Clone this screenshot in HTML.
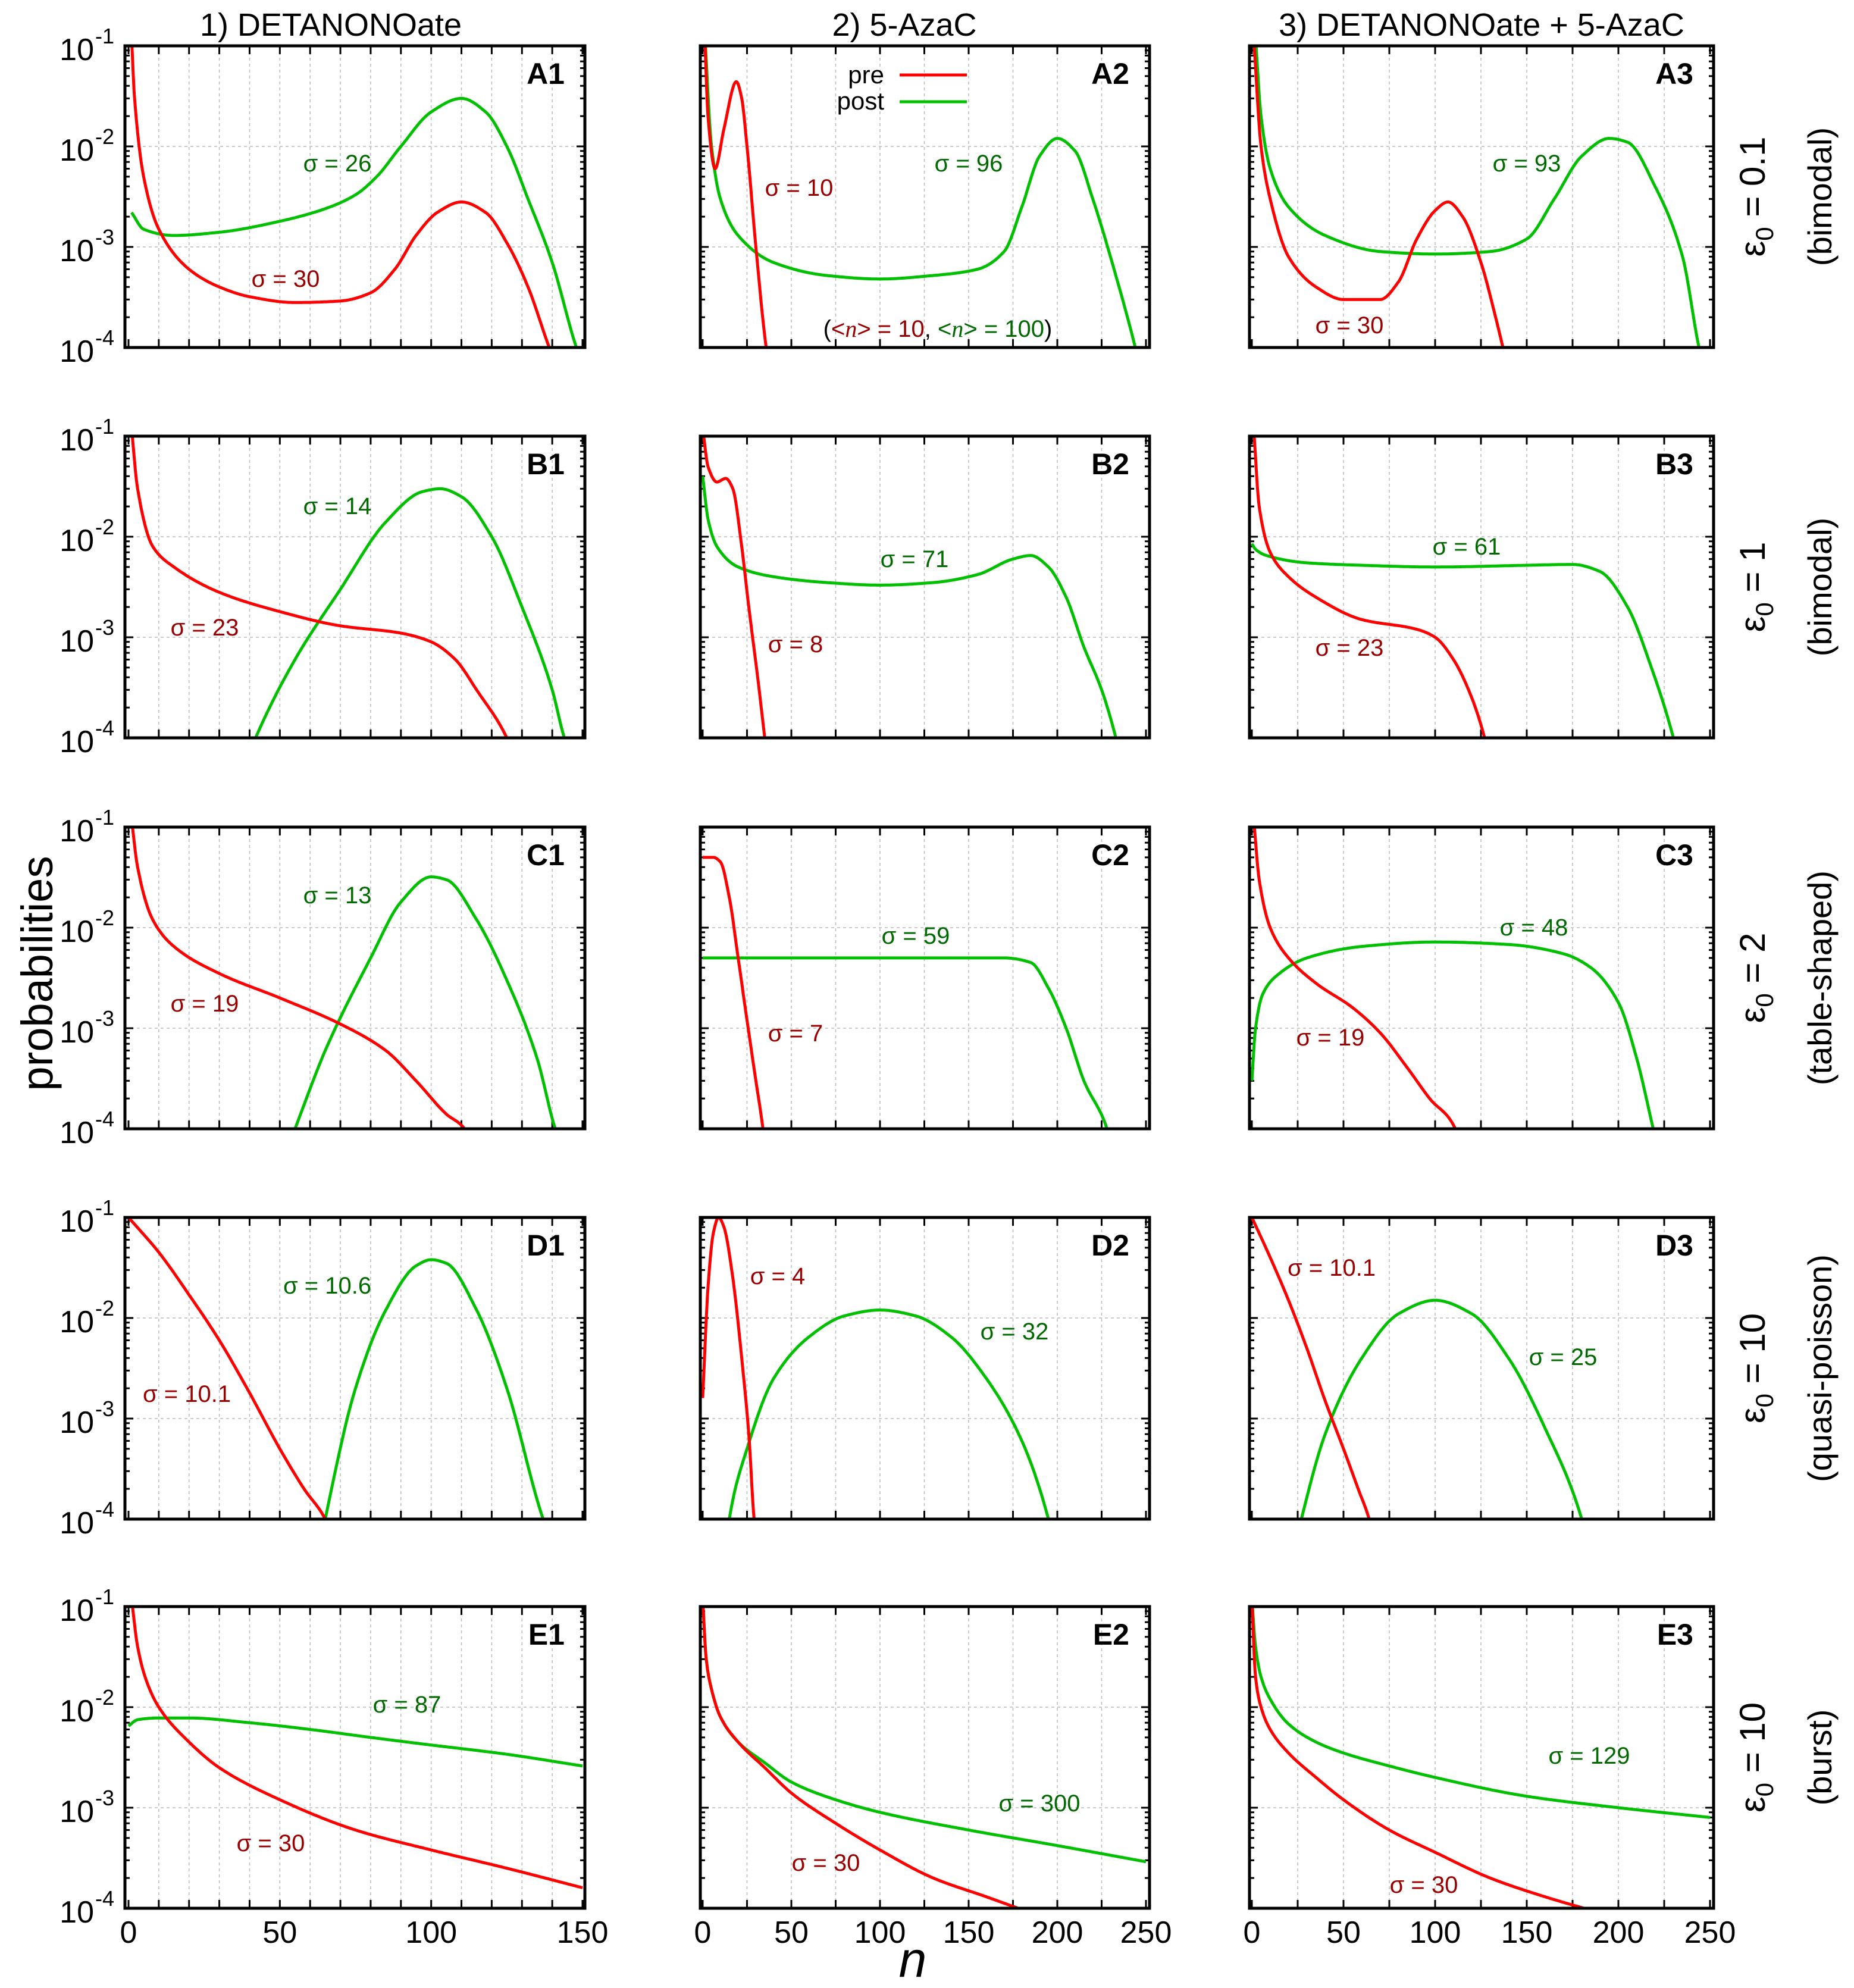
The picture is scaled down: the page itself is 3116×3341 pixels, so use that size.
<!DOCTYPE html>
<html><head><meta charset="utf-8"><style>
html,body{margin:0;padding:0;background:#fff}
svg{display:block}
text{font-family:"Liberation Sans",sans-serif}
</style></head><body>
<svg id="fig" width="3116" height="3341" viewBox="0 0 3116 3341" xmlns="http://www.w3.org/2000/svg"></svg>
<script>
// ---- data (n, probability) ----
const panelIds = ["A1","A2","A3","B1","B2","B3","C1","C2","C3","D1","D2","D3","E1","E2","E3"];
const A1pre  = [[1,0.12],[2,0.03],[5,0.005],[10,0.0015],[20,0.0006],[30,0.0004],[40,0.00032],[55,0.00028],[70,0.00029],[80,0.00035],[88,0.0006],[95,0.0013],[102,0.0022],[110,0.0028],[118,0.0022],[125,0.0011],[132,0.0004],[139,0.0001],[141,0.00007]];
const A1post = [[1,0.0022],[5,0.0015],[15,0.0013],[30,0.0014],[50,0.0018],[65,0.0024],[75,0.0033],[82,0.005],[90,0.01],[100,0.022],[110,0.03],[118,0.022],[125,0.01],[132,0.003],[140,0.0007],[148,0.0001],[150,0.00007]];
const A2pre  = [[1,0.15],[3,0.02],[7,0.006],[12,0.015],[19,0.044],[22,0.03],[25,0.01],[30,0.001],[35,0.00013],[37,0.00007]];
const A2post = [[1,0.15],[5,0.01],[10,0.003],[20,0.0013],[40,0.0007],[70,0.00052],[100,0.00048],[130,0.00052],[155,0.0006],[170,0.0009],[180,0.0025],[190,0.008],[200,0.012],[210,0.009],[220,0.003],[232,0.0006],[244,0.0001],[247,0.00006]];
const A3pre  = [[1,0.12],[5,0.01],[10,0.003],[20,0.0008],[35,0.0004],[50,0.0003],[70,0.0003],[80,0.00045],[90,0.0012],[100,0.0023],[107,0.0028],[115,0.002],[125,0.0007],[133,0.0002],[137,0.0001],[139,0.00007]];
const A3post = [[2,0.12],[5,0.02],[10,0.006],[20,0.0025],[40,0.0013],[70,0.0009],[100,0.00085],[130,0.0009],[150,0.0012],[165,0.003],[180,0.008],[195,0.012],[205,0.011],[220,0.004],[235,0.0008],[244,0.0001],[247,0.00006]];
const B1pre  = [[1,0.12],[3,0.03],[8,0.008],[15,0.005],[30,0.0028],[50,0.0018],[70,0.0013],[90,0.0011],[100,0.0009],[108,0.0006],[115,0.0003],[125,0.0001],[127,0.00007]];
const B1post = [[40,0.00007],[42,0.0001],[55,0.0006],[70,0.003],[85,0.014],[97,0.028],[103,0.03],[110,0.025],[120,0.01],[130,0.002],[140,0.0003],[144,0.0001],[146,0.00007]];
const B2pre  = [[0,0.12],[3,0.05],[8,0.035],[13,0.038],[17,0.03],[22,0.008],[26,0.002],[31,0.0004],[35,0.0001],[36,0.00007]];
const B2post = [[0,0.04],[3,0.015],[8,0.008],[20,0.005],[40,0.004],[70,0.0035],[100,0.0033],[130,0.0035],[155,0.0042],[175,0.006],[185,0.0065],[195,0.005],[205,0.0025],[215,0.0008],[225,0.0003],[233,0.0001],[235,0.00007]];
const B3pre  = [[1,0.12],[4,0.02],[10,0.007],[20,0.004],[35,0.0025],[60,0.0015],[90,0.0012],[100,0.001],[110,0.0006],[120,0.00025],[127,0.0001],[129,0.00007]];
const B3post = [[0,0.0085],[2,0.0075],[8,0.0065],[30,0.0055],[60,0.0052],[100,0.005],[150,0.0052],[175,0.0053],[190,0.0045],[205,0.002],[218,0.0005],[230,0.0001],[232,0.00007]];
const C1pre  = [[1,0.12],[3,0.04],[8,0.012],[15,0.0065],[30,0.0035],[50,0.002],[70,0.0011],[85,0.0006],[95,0.0003],[105,0.00014],[111,0.0001],[113,0.00007]];
const C1post = [[53,0.00007],[55,0.0001],[65,0.0006],[80,0.005],[90,0.018],[100,0.032],[105,0.03],[115,0.012],[125,0.003],[135,0.0005],[141,0.0001],[143,0.00007]];
const C2pre  = [[0,0.05],[6,0.05],[10,0.045],[15,0.02],[20,0.005],[25,0.0012],[30,0.0003],[34,0.0001],[35,0.00007]];
const C2post = [[0,0.005],[50,0.005],[100,0.005],[170,0.005],[185,0.0045],[195,0.0025],[205,0.001],[215,0.0003],[228,0.0001],[230,0.00007]];
const C3pre  = [[1,0.12],[4,0.03],[10,0.01],[20,0.005],[35,0.0028],[55,0.0016],[70,0.0009],[85,0.0004],[97,0.0002],[111,0.0001],[113,0.00007]];
const C3post = [[0,0.0003],[2,0.001],[6,0.0022],[15,0.0035],[30,0.005],[60,0.0065],[100,0.0072],[140,0.0068],[170,0.0055],[185,0.004],[200,0.0018],[210,0.0005],[219,0.0001],[221,0.00007]];
const D1pre  = [[0,0.1],[10,0.045],[20,0.017],[30,0.006],[40,0.0018],[50,0.0005],[58,0.0002],[65,0.0001],[67,0.00007]];
const D1post = [[64,0.00007],[65,0.0001],[75,0.002],[85,0.012],[95,0.033],[100,0.038],[105,0.035],[115,0.012],[125,0.002],[137,0.0001],[139,0.00007]];
const D2pre  = [[0,0.0016],[3,0.02],[6,0.07],[9,0.1],[12,0.08],[17,0.025],[22,0.004],[26,0.0007],[29,0.0001],[30,0.00007]];
const D2post = [[14,0.00007],[15,0.0001],[25,0.0005],[40,0.0025],[60,0.0065],[80,0.0105],[100,0.012],[120,0.0105],[140,0.0065],[160,0.0025],[180,0.0006],[195,0.0001],[197,0.00007]];
const D3pre  = [[0,0.1],[10,0.04],[20,0.015],[30,0.005],[40,0.0015],[50,0.0005],[58,0.0002],[64,0.0001],[66,0.00007]];
const D3post = [[25,0.00007],[27,0.0001],[40,0.0007],[60,0.004],[80,0.011],[100,0.015],[120,0.011],[140,0.004],[160,0.0008],[180,0.0001],[182,0.00007]];
const E1pre  = [[1,0.12],[3,0.04],[6,0.018],[10,0.01],[20,0.0045],[30,0.0025],[50,0.0012],[75,0.0006],[100,0.00038],[125,0.00025],[150,0.00016]];
const E1post = [[0,0.0065],[3,0.0075],[10,0.0078],[20,0.0078],[40,0.007],[60,0.006],[80,0.005],[100,0.0042],[125,0.0034],[150,0.0026]];
const E2pre  = [[0,0.12],[2,0.03],[5,0.015],[10,0.008],[20,0.0045],[35,0.0025],[50,0.0014],[75,0.0007],[100,0.00038],[130,0.0002],[160,0.00013],[185,0.00009]];
const E2post = [[0,0.12],[2,0.03],[5,0.015],[10,0.008],[20,0.0045],[35,0.0028],[50,0.0018],[75,0.0012],[100,0.0009],[150,0.0006],[200,0.00042],[250,0.00029]];
const E3pre  = [[0,0.12],[2,0.02],[5,0.01],[10,0.006],[20,0.0035],[35,0.002],[50,0.0012],[75,0.0006],[100,0.00036],[130,0.0002],[160,0.00013],[190,0.00009]];
const E3post = [[0,0.12],[2,0.04],[5,0.02],[10,0.012],[20,0.0068],[35,0.0045],[50,0.0035],[75,0.0026],[100,0.002],[150,0.0013],[200,0.001],[250,0.0008]];
const preSeries  = [A1pre,A2pre,A3pre,B1pre,B2pre,B3pre,C1pre,C2pre,C3pre,D1pre,D2pre,D3pre,E1pre,E2pre,E3pre];
const postSeries = [A1post,A2post,A3post,B1post,B2post,B3post,C1post,C2post,C3post,D1post,D2post,D3post,E1post,E2post,E3post];
const sigmaPre  = ["30","10","30","23","8","23","19","7","19","10.1","4","10.1","30","30","30"];
const sigmaPost = ["26","96","93","14","71","61","13","59","48","10.6","32","25","87","300","129"];
const colTitles = ["1) DETANONOate","2) 5-AzaC","3) DETANONOate + 5-AzaC"];
const rowEps = ["0.1","1","2","10","10"];
const rowKind = ["(bimodal)","(bimodal)","(table-shaped)","(quasi-poisson)","(burst)"];
const xMax = [150,250,250];
const xTickStep = [10,25,25];
const xLabelVals = [[0,50,100,150],[0,50,100,150,200,250],[0,50,100,150,200,250]];
const yTickExps = [-1,-2,-3,-4];

// ---- layout ----
const NS="http://www.w3.org/2000/svg";
const svg=document.getElementById('fig');
const cols=[{fl:210,fr:983,x0:216,x1:979},{fl:1177,fr:1932,x0:1181,x1:1926},{fl:2100,fr:2880,x0:2104,x1:2874}];
const rowTops=[77,733,1390,2046,2700];
const H=507;
const LY=14;
const preLabelPos=[[480,468],[1343,315],[2268,546],[344,1054],[1337,1082],[2268,1088],[344,1686],[1337,1736],[2236,1743],[314,2342],[1307,2144],[2238,2130],[455,3097],[1388,3130],[2393,3167]];
const postLabelPos=[[567,274],[1628,274],[2566,274],[567,850],[1537,939],[2465,918],[567,1504],[1539,1572],[2578,1558],[550,2160],[1705,2237],[2627,2280],[684,2864],[1747,3030],[2671,2950]];

function el(tag,attrs,parent){const e=document.createElementNS(NS,tag);for(const k in attrs)e.setAttribute(k,attrs[k]);(parent||svg).appendChild(e);return e;}
function xs(c,n){return cols[c].x0+n/xMax[c]*(cols[c].x1-cols[c].x0);}
function ys(r,p){return rowTops[r]+(-1-Math.log10(p))/3*H;}
function curvePath(c,r,data){
  const X=data.map(d=>d[0]), Y=data.map(d=>Math.log10(d[1])), N=X.length;
  const h=[],dd=[];
  for(let i=0;i<N-1;i++){h[i]=X[i+1]-X[i];dd[i]=(Y[i+1]-Y[i])/h[i];}
  const m=new Array(N);
  m[0]=dd[0]; m[N-1]=dd[N-2];
  for(let i=1;i<N-1;i++){
    if(dd[i-1]*dd[i]<=0){m[i]=0;continue;}
    const w1=2*h[i]+h[i-1], w2=h[i]+2*h[i-1];
    m[i]=(w1+w2)/(w1/dd[i-1]+w2/dd[i]);
  }
  let d='';
  for(let i=0;i<N-1;i++){
    const steps=Math.max(8,Math.ceil(h[i]*3));
    for(let s=(i===0?0:1);s<=steps;s++){
      const t=s/steps,t2=t*t,t3=t2*t;
      const y=(2*t3-3*t2+1)*Y[i]+(t3-2*t2+t)*h[i]*m[i]+(-2*t3+3*t2)*Y[i+1]+(t3-t2)*h[i]*m[i+1];
      const n=X[i]+t*h[i];
      d+=(d===''?'M':'L')+xs(c,n).toFixed(1)+','+ys(r,Math.pow(10,y)).toFixed(1);
    }
  }
  return d;
}

const defs=el('defs',{});
for(let r=0;r<5;r++){
  for(let c=0;c<3;c++){
    const idx=r*3+c, top=rowTops[r], bot=top+H, C=cols[c];
    const g=el('g',{});
    
    
    const cp=el('clipPath',{id:'clip'+idx},defs);
    el('rect',{x:C.fl,y:top,width:C.fr-C.fl,height:H},cp);
    for(let n=xTickStep[c];n<xMax[c];n+=xTickStep[c]){
      const x=xs(c,n);
      const gl=el('line',{x1:x,y1:top,x2:x,y2:bot,stroke:'#bbb','stroke-width':1.5,'stroke-dasharray':'5,5'},g);
      
      
    }
    for(const e of [-2,-3]){
      const y=ys(r,Math.pow(10,e));
      const gl=el('line',{x1:C.fl,y1:y,x2:C.fr,y2:y,stroke:'#bbb','stroke-width':1.5,'stroke-dasharray':'5,5'},g);
      
      
    }
    for(let n=0;n<=xMax[c];n+=xTickStep[c]){
      const x=xs(c,n);
      el('line',{x1:x,y1:bot,x2:x,y2:bot-14,stroke:'#000','stroke-width':3},g);
      el('line',{x1:x,y1:top,x2:x,y2:top+14,stroke:'#000','stroke-width':3},g);
    }
    for(let e=-1;e>-4;e--){
      for(let k=1;k<=9;k++){
        const p=k*Math.pow(10,e-1); const y=ys(r,p);
        const len=k===1?14:8;
        el('line',{x1:C.fl,y1:y,x2:C.fl+len,y2:y,stroke:'#000','stroke-width':3},g);
        el('line',{x1:C.fr,y1:y,x2:C.fr-len,y2:y,stroke:'#000','stroke-width':3},g);
      }
    }
    const lp=el('path',{d:curvePath(c,r,postSeries[idx]),fill:'none',stroke:'#00c000','stroke-width':5,'stroke-linejoin':'round','clip-path':`url(#clip${idx})`},g);
    
    
    const lr=el('path',{d:curvePath(c,r,preSeries[idx]),fill:'none',stroke:'#ff0000','stroke-width':5,'stroke-linejoin':'round','clip-path':`url(#clip${idx})`},g);
    
    
    const fr=el('rect',{x:C.fl,y:top,width:C.fr-C.fl,height:H,fill:'none',stroke:'#000','stroke-width':5},g);
    
    
    const pl=el('text',{x:C.fr-34,y:top+64,'text-anchor':'end','font-size':50,'font-weight':'bold'},g);
    pl.textContent=panelIds[idx];
    
    
    const sp=el('text',{x:preLabelPos[idx][0],y:preLabelPos[idx][1]+LY,'text-anchor':'middle','font-size':40,fill:'#990000'},g);
    sp.textContent='σ = '+sigmaPre[idx];
    
    
    const so=el('text',{x:postLabelPos[idx][0],y:postLabelPos[idx][1]+LY,'text-anchor':'middle','font-size':40,fill:'#006a00'},g);
    so.textContent='σ = '+sigmaPost[idx];
    
    
    if(c===0){
      for(const e of yTickExps){
        const y=ys(r,Math.pow(10,e));
        const t=el('text',{x:158,y:y+24,'text-anchor':'end','font-size':52},g);
        t.textContent='10';
        
        
        const s=el('text',{x:160,y:y-4,'font-size':36},g);
        s.textContent=String(e);
        
        
      }
    }
    if(r===4){
      for(const v of xLabelVals[c]){
        const t=el('text',{x:xs(c,v),y:bot+58,'text-anchor':'middle','font-size':52},g);
        t.textContent=String(v);
        
        
      }
    }
  }
  const cy=rowTops[r]+H/2;
  const eps=el('text',{x:0,y:0,'text-anchor':'middle','font-size':60,transform:`translate(2966,${cy}) rotate(-90)`});
  eps.innerHTML='ε<tspan dy="14" font-size="42">0</tspan><tspan dy="-14"> = '+rowEps[r]+'</tspan>';
  
  
  const kd=el('text',{x:0,y:0,'text-anchor':'middle','font-size':56,transform:`translate(3078,${cy}) rotate(-90)`});
  kd.textContent=rowKind[r];
  
  
}
const titleX=[556,1520,2490];
for(let c=0;c<3;c++){
  const t=el('text',{x:titleX[c],y:60,'text-anchor':'middle','font-size':54});
  t.textContent=colTitles[c];
  
  
}
const yt=el('text',{x:0,y:0,'text-anchor':'middle','font-size':74,transform:'translate(88,1636) rotate(-90)'});
yt.textContent='probabilities';


const xt=el('text',{x:1534,y:3322,'text-anchor':'middle','font-size':84,'font-style':'italic','font-family':'Liberation Serif, serif'});
xt.textContent='n';


const lg=el('g',{});


const t1=el('text',{x:1486,y:140,'text-anchor':'end','font-size':42},lg);t1.textContent='pre';


const l1=el('line',{x1:1512,y1:126,x2:1625,y2:126,stroke:'#ff0000','stroke-width':5},lg);


const t2=el('text',{x:1486,y:184,'text-anchor':'end','font-size':42},lg);t2.textContent='post';


const l2=el('line',{x1:1512,y1:171,x2:1625,y2:171,stroke:'#00c000','stroke-width':5},lg);


const an=el('text',{x:1576,y:566,'text-anchor':'middle','font-size':40});
an.innerHTML='(<tspan fill="#990000">&lt;<tspan font-style="italic" font-family="Liberation Serif, serif">n</tspan>&gt; = 10</tspan>, <tspan fill="#006a00">&lt;<tspan font-style="italic" font-family="Liberation Serif, serif">n</tspan>&gt; = 100</tspan>)';


</script>
</body></html>
